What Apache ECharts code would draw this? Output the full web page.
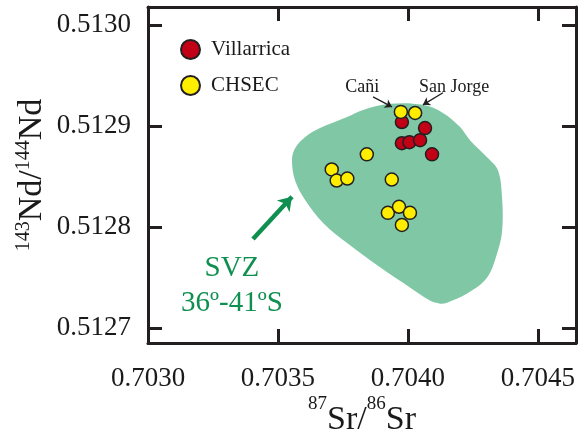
<!DOCTYPE html>
<html>
<head>
<meta charset="utf-8">
<script src="https://cdn.jsdelivr.net/npm/echarts@6/dist/echarts.min.js"></script>
<style>
html, body { margin: 0; padding: 0; background: #fff; }
#main { width: 583px; height: 433px; }
</style>
</head>
<body>
<div id="main"></div>
<script>
// ticks
var xTicks = [0.7030, 0.7035, 0.7040, 0.7045];
var yTicks = [0.5127, 0.5128, 0.5129, 0.5130];

// 87Sr/86Sr , 143Nd/144Nd
var villarrica = [
	[0.703977, 0.512904], [0.704066, 0.512898], [0.703977, 0.512883],
	[0.704006, 0.512884], [0.704047, 0.512886], [0.704093, 0.512872]
];
var chsec = [
	[0.703973, 0.512914], [0.704028, 0.512913], [0.703842, 0.512872],
	[0.703707, 0.512857], [0.703726, 0.512846], [0.703767, 0.512848],
	[0.703938, 0.512847], [0.703923, 0.512814], [0.703966, 0.512820],
	[0.704008, 0.512814], [0.703977, 0.512802]
];

// SVZ 36-41S field outline
var svzOutline = [
	[0.704347, 0.512856], [0.704363, 0.512827], [0.704363, 0.512797],
	[0.704347, 0.512777], [0.704305, 0.512750], [0.704228, 0.512734],
	[0.704151, 0.512725], [0.704124, 0.512724], [0.704085, 0.512727],
	[0.704008, 0.512740], [0.703893, 0.512760], [0.703766, 0.512784],
	[0.703674, 0.512804], [0.703604, 0.512827], [0.703566, 0.512846],
	[0.703554, 0.512866], [0.703566, 0.512878], [0.703604, 0.512889],
	[0.703662, 0.512898], [0.703766, 0.512909], [0.703828, 0.512916],
	[0.703931, 0.512922], [0.704058, 0.512921], [0.704135, 0.512913],
	[0.704201, 0.512899], [0.704239, 0.512886], [0.704305, 0.512869]
];

// annotations
var caniArrow = [[0.703866, 0.512929], [0.703939, 0.512919]];
var sanJorgeArrow = [[0.704135, 0.512933], [0.704058, 0.512921]];
var svzArrow = [[0.703404, 0.512788], [0.703554, 0.512830]];
var textLabels = [
	{ text: 'Cañi', at: [0.703824, 0.512938], size: 18, color: '#1a1a1a' },
	{ text: 'San Jorge', at: [0.704178, 0.512938], size: 18, color: '#1a1a1a' },
	{ text: 'SVZ', at: [0.703323, 0.512759], size: 29, color: '#0f9050' },
	{ text: '36º-41ºS', at: [0.703323, 0.512724], size: 29, color: '#0f9050' }
];

var font = 'Liberation Serif';
var ink = '#231f20';

var chart = echarts.init(document.getElementById('main'));

function xAxisOf(pos, withLabels) {
	return {
		type: 'value',
		position: pos,
		min: 0.7030,
		max: 0.704647,
		axisLine: { show: true, onZero: false, lineStyle: { color: ink, width: 3 } },
		axisTick: { show: true, inside: true, length: 14, customValues: xTicks, lineStyle: { color: ink, width: 3 } },
		axisLabel: {
			show: withLabels, customValues: xTicks, margin: 22,
			fontFamily: font, fontSize: 27, color: '#1a1a1a',
			formatter: function (v) { return v.toFixed(4); }
		},
		splitLine: { show: false },
		name: withLabels ? '{sup|87}{main|Sr/}{sup|86}{main|Sr}' : '',
		nameLocation: 'middle',
		nameGap: 52,
		nameMoveOverlap: false,
		nameTextStyle: {
			rich: {
				main: { fontFamily: font, fontSize: 34, color: '#1a1a1a', lineHeight: 50 },
				sup: { fontFamily: font, fontSize: 19, color: '#1a1a1a', lineHeight: 14, verticalAlign: 'top' }
			}
		}
	};
}

function yAxisOf(pos, withLabels) {
	return {
		type: 'value',
		position: pos,
		min: 0.512685,
		max: 0.513018,
		axisLine: { show: true, onZero: false, lineStyle: { color: ink, width: 3 } },
		axisTick: { show: true, inside: true, length: 14, customValues: yTicks, lineStyle: { color: ink, width: 3 } },
		axisLabel: {
			show: withLabels, customValues: yTicks, margin: 17,
			fontFamily: font, fontSize: 27, color: '#1a1a1a',
			formatter: function (v) { return v.toFixed(4); }
		},
		splitLine: { show: false },
		name: withLabels ? '{sup|143}{main|Nd/}{sup|144}{main|Nd}' : '',
		nameLocation: 'middle',
		nameRotate: 90,
		nameGap: 98,
		nameMoveOverlap: false,
		nameTextStyle: {
			rich: {
				main: { fontFamily: font, fontSize: 34, color: '#1a1a1a', lineHeight: 36 },
				sup: { fontFamily: font, fontSize: 20, color: '#1a1a1a', lineHeight: 16, verticalAlign: 'top' }
			}
		}
	};
}

var option = {
	animation: false,
	grid: { left: 148, right: 7, top: 7, bottom: 90, containLabel: false, outerBoundsMode: 'none' },
	xAxis: [xAxisOf('bottom', true), xAxisOf('top', false)],
	yAxis: [yAxisOf('left', true), yAxisOf('right', false)],
	legend: {
		orient: 'vertical',
		left: 180,
		top: 39,
		padding: 0,
		itemWidth: 19,
		itemHeight: 19,
		itemGap: 15,
		icon: 'circle',
		data: ['Villarrica', 'CHSEC'],
		textStyle: { fontFamily: font, fontSize: 21, color: '#1a1a1a', lineHeight: 19, padding: [0, 0, 0, 6] }
	},
	series: [
		{
			type: 'custom',
			name: 'SVZ',
			silent: true,
			z: 1,
			data: svzOutline,
			encode: { x: 0, y: 1 },
			renderItem: function (params, api) {
				if (params.dataIndex !== 0) return;
				var pts = svzOutline.map(function (p) { return api.coord(p); });
				return {
					type: 'polygon',
					shape: { points: pts, smooth: 0.35 },
					style: { fill: '#80c8a5' }
				};
			}
		},
		{
			type: 'lines',
			coordinateSystem: 'cartesian2d',
			z: 3,
			silent: true,
			symbol: ['none', 'arrow'],
			data: [
				{ coords: caniArrow, symbolSize: 7, lineStyle: { color: ink, width: 1.3, opacity: 1 } },
				{ coords: sanJorgeArrow, symbolSize: 7, lineStyle: { color: ink, width: 1.3, opacity: 1 } },
				{ coords: svzArrow, symbolSize: 13, lineStyle: { color: '#0f9050', width: 4.5, opacity: 1 } }
			]
		},
		{
			type: 'scatter',
			name: 'Villarrica',
			z: 4,
			data: villarrica,
			symbol: 'circle',
			symbolSize: 13,
			itemStyle: { color: '#c20016', borderColor: ink, borderWidth: 1.5, opacity: 1 }
		},
		{
			type: 'scatter',
			name: 'CHSEC',
			z: 5,
			data: chsec,
			symbol: 'circle',
			symbolSize: 13,
			itemStyle: { color: '#ffed00', borderColor: ink, borderWidth: 1.5, opacity: 1 }
		}
	]
};

chart.setOption(option);

// place the annotation texts from data coordinates
var graphics = textLabels.map(function (t) {
	var p = chart.convertToPixel({ gridIndex: 0 }, t.at);
	return {
		type: 'text',
		x: p[0],
		y: p[1],
		z: 10,
		style: {
			text: t.text,
			fontFamily: font,
			fontSize: t.size,
			fill: t.color,
			align: 'center',
			verticalAlign: 'middle'
		}
	};
});
chart.setOption({ graphic: graphics });
</script>
</body>
</html>
